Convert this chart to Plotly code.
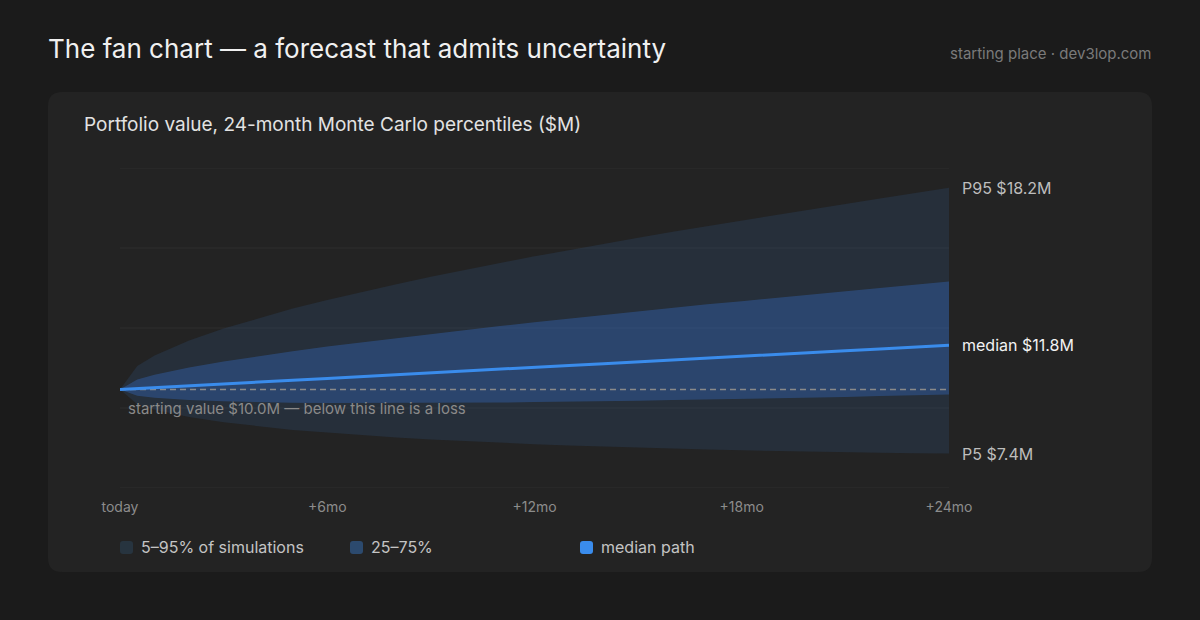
import plotly.graph_objects as go

# ---- data ($M) ----
months = [0, 0.5, 1, 2, 3, 4, 5, 6, 7, 8, 9, 10, 11, 12, 13, 14, 15, 16, 17, 18, 19, 20, 21, 22, 23, 24]
p95 = [10.00, 10.96, 11.38, 11.99, 12.48, 12.90, 13.29, 13.64, 13.97, 14.28, 14.58, 14.87, 15.14,
       15.41, 15.67, 15.92, 16.17, 16.41, 16.64, 16.88, 17.10, 17.32, 17.54, 17.76, 17.97, 18.20]
p75 = [10.00, 10.41, 10.60, 10.90, 11.14, 11.36, 11.56, 11.75, 11.92, 12.10, 12.26, 12.42, 12.58,
       12.73, 12.88, 13.03, 13.17, 13.32, 13.46, 13.59, 13.73, 13.86, 14.00, 14.13, 14.26, 14.39]
p50 = [10.00, 10.04, 10.08, 10.15, 10.23, 10.30, 10.38, 10.45, 10.53, 10.60, 10.68, 10.75, 10.83,
       10.90, 10.98, 11.05, 11.13, 11.20, 11.28, 11.35, 11.43, 11.50, 11.58, 11.65, 11.73, 11.80]
p25 = [10.00, 9.75, 9.67, 9.57, 9.52, 9.48, 9.46, 9.45, 9.45, 9.45, 9.45, 9.46, 9.47,
       9.49, 9.50, 9.52, 9.54, 9.57, 9.59, 9.62, 9.65, 9.67, 9.70, 9.74, 9.77, 9.80]
p5 = [10.00, 9.40, 9.18, 8.88, 8.67, 8.50, 8.36, 8.25, 8.14, 8.05, 7.97, 7.90, 7.84,
      7.78, 7.73, 7.68, 7.64, 7.60, 7.56, 7.53, 7.50, 7.47, 7.45, 7.43, 7.41, 7.40]
start_value = 10.0
tick_vals = [0, 6, 12, 18, 24]
tick_text = ["today", "+6mo", "+12mo", "+18mo", "+24mo"]
grid_vals = [6, 9.25, 12.5, 15.75, 19]
legend_labels = ["5–95% of simulations", "25–75%", "median path"]

# ---- styling ----
W, H = 1200, 620
PL, PR, PT, PB = 120, 949, 168, 488  # plot area pixels
PAGE_BG = "#1b1b1b"
CARD_BG = "#232323"
OUTER = "rgba(56,120,200,0.14)"
INNER = "rgba(59,130,246,0.28)"
MED = "#3a8cec"
FONT = "Inter, Roboto, sans-serif"


def px_x(x):
    return (x - PL) / (PR - PL)


def px_y(y):
    return (PB - y) / (PB - PT)


def rrect(x0, y0, x1, y1, r):
    pts = [
        f"M {px_x(x0 + r)} {px_y(y0)}",
        f"L {px_x(x1 - r)} {px_y(y0)}",
        f"Q {px_x(x1)} {px_y(y0)} {px_x(x1)} {px_y(y0 + r)}",
        f"L {px_x(x1)} {px_y(y1 - r)}",
        f"Q {px_x(x1)} {px_y(y1)} {px_x(x1 - r)} {px_y(y1)}",
        f"L {px_x(x0 + r)} {px_y(y1)}",
        f"Q {px_x(x0)} {px_y(y1)} {px_x(x0)} {px_y(y1 - r)}",
        f"L {px_x(x0)} {px_y(y0 + r)}",
        f"Q {px_x(x0)} {px_y(y0)} {px_x(x0 + r)} {px_y(y0)}",
        "Z",
    ]
    return " ".join(pts)


fig = go.Figure()

# outer band
fig.add_trace(go.Scatter(x=months, y=p5, mode="lines", line=dict(width=0), hoverinfo="skip", showlegend=False))
fig.add_trace(go.Scatter(x=months, y=p95, mode="lines", line=dict(width=0), fill="tonexty",
                         fillcolor=OUTER, hoverinfo="skip", showlegend=False))
# inner band
fig.add_trace(go.Scatter(x=months, y=p25, mode="lines", line=dict(width=0), hoverinfo="skip", showlegend=False))
fig.add_trace(go.Scatter(x=months, y=p75, mode="lines", line=dict(width=0), fill="tonexty",
                         fillcolor=INNER, hoverinfo="skip", showlegend=False))
# starting value reference
fig.add_trace(go.Scatter(x=[months[0], months[-1]], y=[start_value, start_value], mode="lines",
                         line=dict(color="#8a8a8a", width=1.5, dash="6px,4px"),
                         hoverinfo="skip", showlegend=False))
# median
fig.add_trace(go.Scatter(x=months, y=p50, mode="lines", line=dict(color=MED, width=3),
                         showlegend=False))

shapes = [dict(type="path", xref="paper", yref="paper", path=rrect(48, 92, 1152, 572, 14),
               fillcolor=CARD_BG, line=dict(width=0), layer="below")]
# horizontal gridlines (drawn as shapes so the edge lines show too)
for g in grid_vals:
    shapes.append(dict(type="line", xref="paper", yref="y", x0=0, x1=1, y0=g, y1=g,
                       line=dict(color="#2f2f2f", width=1), layer="below"))

annotations = [
    dict(text="The fan chart — a forecast that admits uncertainty", xref="paper", yref="paper",
         x=px_x(46), y=px_y(48), xanchor="left", yanchor="middle", showarrow=False,
         font=dict(family=FONT, size=26, color="#f0f0f0")),
    dict(text="starting place · dev3lop.com", xref="paper", yref="paper",
         x=px_x(1154), y=px_y(53), xanchor="right", yanchor="middle", showarrow=False,
         font=dict(family=FONT, size=15, color="#7a7a7a")),
    dict(text="Portfolio value, 24-month Monte Carlo percentiles ($M)", xref="paper", yref="paper",
         x=px_x(82), y=px_y(124), xanchor="left", yanchor="middle", showarrow=False,
         font=dict(family=FONT, size=19, color="#e2e2e2")),
    dict(text=f"P95 ${p95[-1]:.1f}M", xref="paper", yref="y", x=px_x(960), y=p95[-1],
         xanchor="left", yanchor="middle", showarrow=False,
         font=dict(family=FONT, size=16, color="#bdbdbd")),
    dict(text=f"median ${p50[-1]:.1f}M", xref="paper", yref="y", x=px_x(960), y=p50[-1],
         xanchor="left", yanchor="middle", showarrow=False,
         font=dict(family=FONT, size=16, color="#f2f2f2")),
    dict(text=f"P5 ${p5[-1]:.1f}M", xref="paper", yref="y", x=px_x(960), y=p5[-1],
         xanchor="left", yanchor="middle", showarrow=False,
         font=dict(family=FONT, size=16, color="#bdbdbd")),
    dict(text=f"starting value ${start_value:.1f}M — below this line is a loss", xref="x", yref="y",
         x=months[0], y=start_value, xanchor="left", yanchor="middle", xshift=6, yshift=-19,
         showarrow=False, font=dict(family=FONT, size=15, color="#8a8a8a")),
]

# manual legend
legend_x = [120, 350, 580]
legend_colors = ["#27343f", "#2c4a6e", MED]
for lx, lab, col in zip(legend_x, legend_labels, legend_colors):
    shapes.append(dict(type="path", xref="paper", yref="paper", path=rrect(lx, 541, lx + 13, 554, 3),
                       fillcolor=col, line=dict(width=0)))
    annotations.append(dict(text=lab, xref="paper", yref="paper", x=px_x(lx + 19), y=px_y(547),
                            xanchor="left", yanchor="middle", showarrow=False,
                            font=dict(family=FONT, size=16, color="#c4c4c4")))

fig.update_layout(
    width=W, height=H,
    margin=dict(l=PL, r=W - PR, t=PT, b=H - PB, pad=0),
    paper_bgcolor=PAGE_BG, plot_bgcolor="rgba(0,0,0,0)",
    showlegend=False,
    shapes=shapes, annotations=annotations,
    xaxis=dict(range=[months[0], months[-1]], tickvals=tick_vals, ticktext=tick_text,
               showgrid=False, zeroline=False, showline=False,
               ticks="outside", ticklen=6, tickcolor="rgba(0,0,0,0)",
               tickfont=dict(family=FONT, size=14, color="#8c8c8c")),
    yaxis=dict(range=[grid_vals[0], grid_vals[-1]], showticklabels=False,
               showgrid=False, zeroline=False, showline=False),
    hovermode=False,
)

fig.write_html("out.html")
